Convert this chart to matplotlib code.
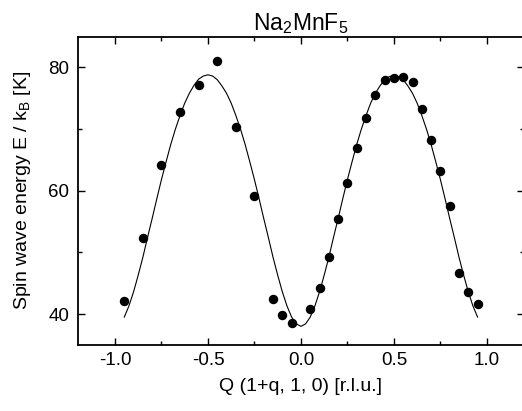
import numpy as np
import matplotlib.pyplot as plt
from matplotlib.ticker import MultipleLocator

plt.rcParams['font.family'] = ['Liberation Sans', 'DejaVu Sans']
plt.rcParams['mathtext.fontset'] = 'custom'
plt.rcParams['mathtext.rm'] = 'Liberation Sans'

#------------------------------------------
# measured points, read off the picture

q_data = [-0.95, -0.85, -0.75, -0.65, -0.55, -0.45, -0.35, -0.25, -0.15, -0.10, -0.05,
          0.05, 0.10, 0.15, 0.20, 0.25, 0.30, 0.35, 0.40, 0.45, 0.50, 0.55, 0.60,
          0.65, 0.70, 0.75, 0.80, 0.85, 0.90, 0.95]
E_data = [42.1, 52.4, 64.1, 72.7, 77.1, 81.0, 70.3, 59.2, 42.4, 39.8, 38.5,
          40.8, 44.2, 49.3, 55.4, 61.3, 67.0, 71.8, 75.5, 77.9, 78.3, 78.5, 77.7,
          73.2, 68.2, 63.2, 57.5, 46.7, 43.6, 41.6]

#------------------------------------------
# fit curve

q_fit = [-0.950, -0.925, -0.900, -0.875, -0.850, -0.825, -0.800, -0.775, -0.750, -0.725,
         -0.700, -0.675, -0.650, -0.625, -0.600, -0.575, -0.550, -0.525, -0.500, -0.475,
         -0.450, -0.425, -0.400, -0.375, -0.350, -0.325, -0.300, -0.275, -0.250, -0.225,
         -0.200, -0.175, -0.150, -0.125, -0.100, -0.075, -0.050, -0.025, 0.000,
         0.025, 0.050, 0.075, 0.100, 0.125, 0.150, 0.175, 0.200, 0.225, 0.250,
         0.275, 0.300, 0.325, 0.350, 0.375, 0.400, 0.425, 0.450, 0.475, 0.500,
         0.525, 0.550, 0.575, 0.600, 0.625, 0.650, 0.675, 0.700, 0.725, 0.750,
         0.775, 0.800, 0.825, 0.850, 0.875, 0.900, 0.925, 0.950]
E_fit = [39.5, 41.3, 43.6, 46.3, 49.2, 52.4, 55.5, 58.7, 61.8, 64.7,
         67.5, 70.0, 72.2, 74.2, 75.8, 77.1, 78.1, 78.6, 78.8, 78.6,
         78.0, 77.0, 75.8, 74.2, 72.2, 70.0, 67.5, 64.7, 61.8, 58.7,
         55.5, 52.4, 49.2, 46.3, 43.6, 41.3, 39.5, 38.4, 38.0,
         38.4, 39.5, 41.3, 43.6, 46.3, 49.2, 52.4, 55.5, 58.7, 61.8,
         64.7, 67.5, 70.0, 72.2, 74.2, 75.8, 77.0, 78.0, 78.5, 78.7,
         78.5, 78.0, 77.0, 75.8, 74.2, 72.2, 70.0, 67.5, 64.7, 61.8,
         58.7, 55.5, 52.4, 49.2, 46.3, 43.6, 41.3, 39.5]

fig = plt.figure(figsize=(5.22, 4.11), dpi=100)
ax = fig.add_axes([0.149, 0.161, 0.855, 0.750])

ax.plot(q_fit, E_fit, color='black', lw=0.8)
ax.plot(q_data, E_data, 'o', color='black', ms=5.8)

ax.set_xlim(-1.2, 1.2)
ax.set_ylim(35, 85)
ax.xaxis.set_major_locator(MultipleLocator(0.5))
ax.xaxis.set_minor_locator(MultipleLocator(0.25))
ax.yaxis.set_major_locator(MultipleLocator(20))
ax.yaxis.set_minor_locator(MultipleLocator(10))
ax.tick_params(which='both', direction='in', top=True, right=True, width=1.0,
               labelsize=13.5)
ax.tick_params(which='major', length=5)
ax.tick_params(which='minor', length=3)
ax.tick_params(axis='x', pad=5)
ax.tick_params(axis='y', pad=6)
ax.xaxis.set_major_formatter(plt.FuncFormatter(lambda v, p: f'{v:.1f}'))
for s in ax.spines.values():
    s.set_linewidth(1.3)

ax.set_title(r'$\mathrm{Na_2MnF_5}$', fontsize=16.5, pad=5)
ax.set_xlabel('Q (1+q, 1, 0) [r.l.u.]', fontsize=14, labelpad=7)
ax.set_ylabel(r'Spin wave energy E / k$_\mathrm{B}$ [K]', fontsize=14, labelpad=11)

fig.savefig('out.png', dpi=100)
